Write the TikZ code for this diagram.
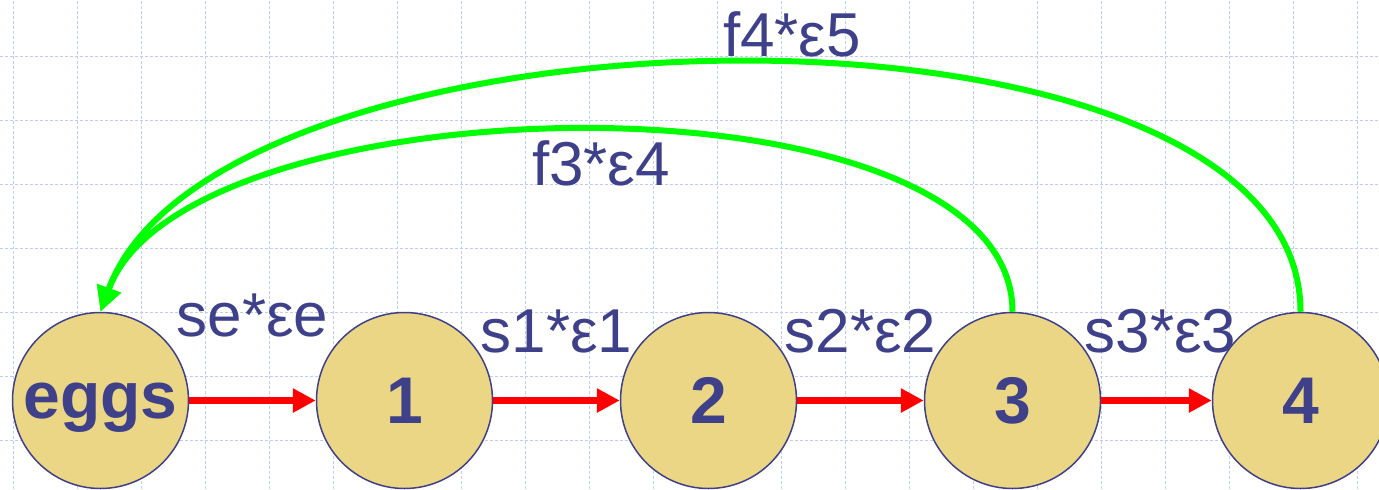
\documentclass[tikz,border=0pt]{standalone}
\usepackage{fontspec}
\setmainfont{Liberation Sans}
\usepackage{xcolor}
\usetikzlibrary{arrows.meta, positioning}
\definecolor{ink}{RGB}{62,64,138}
\definecolor{eggfill}{RGB}{234,214,132}
\definecolor{gridblue}{RGB}{190,204,250}

\begin{document}
\begin{tikzpicture}[x=0.5pt, y=0.5pt,
    stage/.style={circle, draw=ink, line width=0.75pt, fill=eggfill,
        minimum size=88pt, inner sep=0pt, text=ink, text depth=0pt,
        font=\fontsize{33}{36}\selectfont\bfseries},
    lbl/.style={text=ink, font=\fontsize{31}{36}\selectfont, anchor=base, inner sep=0pt},
    flow/.style={-{Triangle[length=11.5pt, width=11.5pt]}, red, line width=3.5pt},
    back/.style={-{Triangle[length=12.5pt, width=12pt]}, green, line width=3pt},
    gridline/.style={gridblue, line width=0.5pt, dash pattern=on 1.5pt off 1pt}]
    \useasboundingbox (0,0) rectangle (1379,489);

    % 1. Background grid
    \foreach \gx in {0,...,21} {
        \draw[gridline] ({13.3+64*\gx},0) -- ({13.3+64*\gx},489);
    }
    \foreach \gy in {0,...,6} {
        \draw[gridline] (0,{48.3+64*\gy}) -- (1379,{48.3+64*\gy});
    }

    % 2. Stages
    \node[stage] (eggs) at (100.5,88.5) {eggs};
    \node[stage] (n1) at (404.5,88.5) {1};
    \node[stage] (n2) at (708.5,88.5) {2};
    \node[stage] (n3) at (1012.5,88.5) {3};
    \node[stage] (n4) at (1300.5,88.5) {4};

    % 3. Survival arrows
    \draw[flow] (eggs) -- node[lbl, yshift=32pt] {se*εe} (n1);
    \draw[flow] (n1) -- node[lbl, yshift=24pt] {s1*ε1} (n2);
    \draw[flow] (n2) -- node[lbl, yshift=24pt] {s2*ε2} (n3);
    \draw[flow] (n3) -- node[lbl, yshift=24pt, xshift=2pt] {s3*ε3} (n4);

    % 4. Fecundity arcs back to eggs
    \draw[back] (n3.north) to[out=90, in=70, looseness=0.7] (eggs.north);
    \draw[back] (n4.north) to[out=90, in=70, looseness=0.73] (eggs.north);
    \node[lbl] (f3) at (601,304) {f3*ε4};
    \node[lbl] (f4) at (792,432.3) {f4*ε5};
\end{tikzpicture}
\end{document}
